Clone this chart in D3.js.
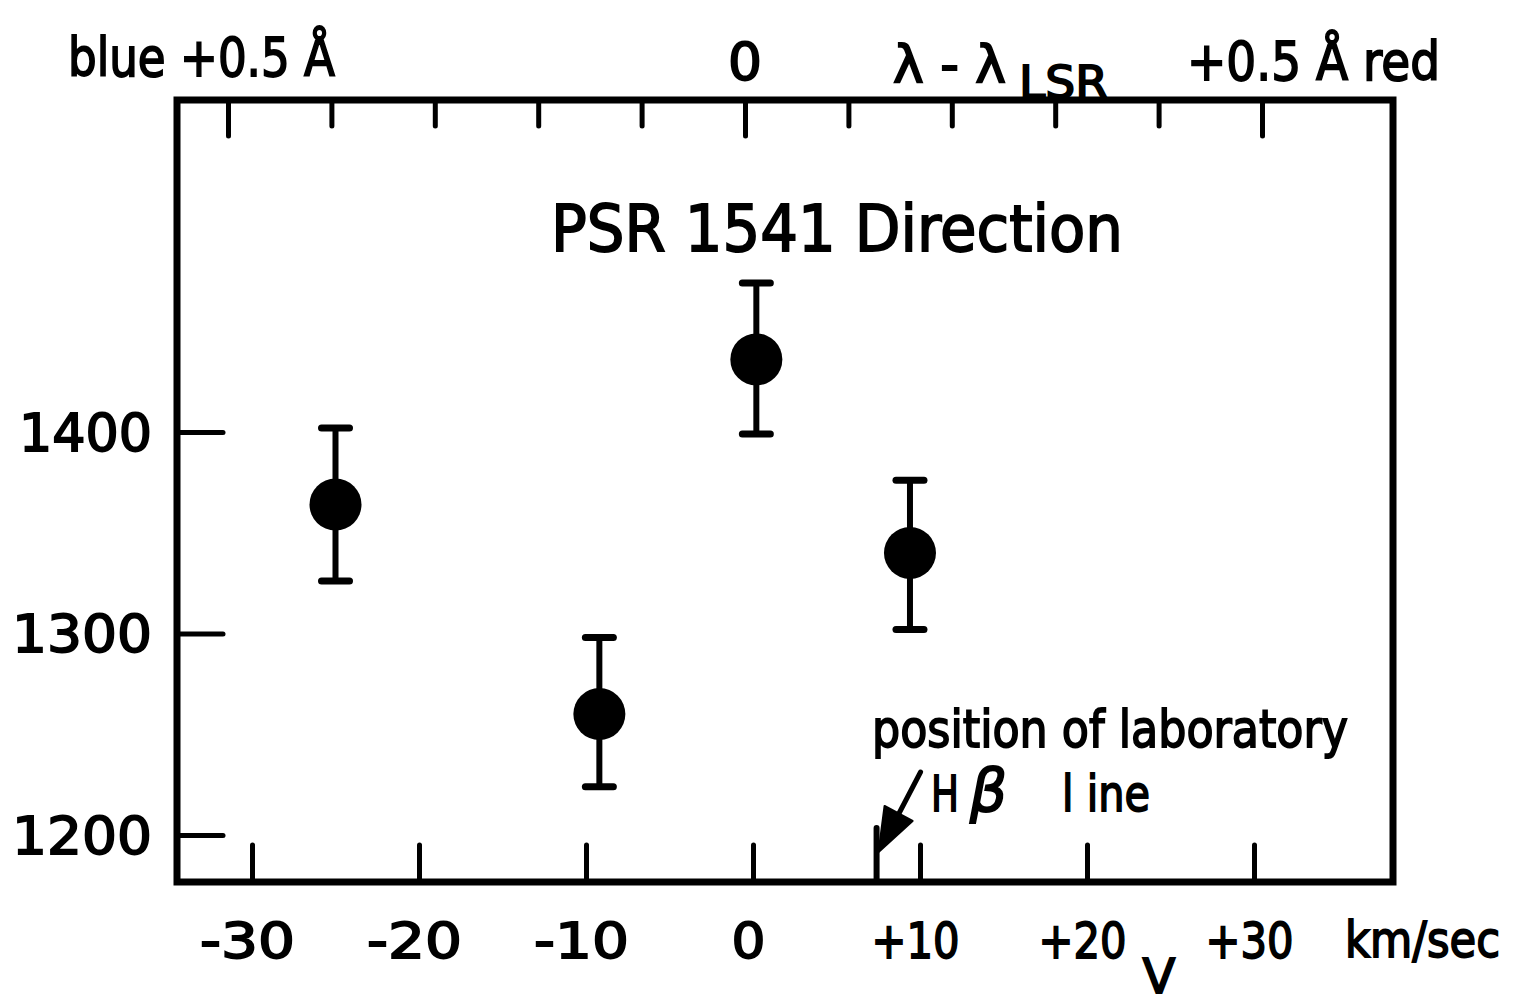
<!DOCTYPE html>
<html>
<head>
<meta charset="utf-8">
<script src="https://cdn.jsdelivr.net/npm/d3@7"></script>
<style>
  html, body { margin: 0; padding: 0; background: #fff; }
  svg { display: block; }
  text { font-family: "DejaVu Sans", sans-serif; fill: #000; stroke: #000; stroke-width: 1.8; paint-order: stroke; }
</style>
</head>
<body>
<div id="container"></div>
<script>
// radial velocity (km/sec) of each measurement
const velocity = [-25.0, -9.2, 0.2, 9.4]
const value = [1364, 1260, 1436, 1340]
const errLow = [1326, 1224, 1399, 1302]
const errHigh = [1402, 1298, 1474, 1376]

const vTicks = [-30, -20, -10, 0, 10, 20, 30]
const yTicks = [1200, 1300, 1400]
const lambdaTicks = [-0.5, -0.4, -0.3, -0.2, -0.1, 0, 0.1, 0.2, 0.3, 0.4, 0.5]
const lambdaMajor = [-0.5, 0, 0.5]
const labLine = 7.4  // laboratory H-beta position, km/sec

const width = 1524
const height = 1007

const frame = { left: 177, top: 100, right: 1393, bottom: 882 }

const svg = d3.select('#container')
    .append('svg').attr('width', width).attr('height', height)

const x = d3.scaleLinear().domain([-30, 30]).range([252, 1254])
const y = d3.scaleLinear().domain([1200, 1400]).range([835, 432])
const xTop = d3.scaleLinear().domain([-0.5, 0.5]).range([228, 1262])

const fmtV = d => d > 0 ? "+" + d : d < 0 ? "-" + Math.abs(d) : "0"

// bottom axis, ticks pointing up into the frame
const bottomAxis = svg.append("g")
    .attr("transform", `translate(0,${frame.bottom})`)
    .call(d3.axisBottom(x).tickValues(vTicks).tickSize(-37).tickFormat(fmtV))
bottomAxis.select(".domain").remove()
bottomAxis.selectAll("line").attr("stroke", "#000").attr("stroke-width", 5).attr("stroke-linecap", "round")
bottomAxis.selectAll("text")
    .attr("y", 76).attr("dy", null).attr("dx", -5)
    .attr("font-size", 50)
    .attr("textLength", d => d === 0 ? 34 : d < 0 ? 95 : 88)
    .attr("lengthAdjust", "spacingAndGlyphs")

// left axis
const leftAxis = svg.append("g")
    .attr("transform", `translate(${frame.left},0)`)
    .call(d3.axisLeft(y).tickValues(yTicks).tickSize(-46).tickFormat(d3.format("d")))
leftAxis.select(".domain").remove()
leftAxis.selectAll("line").attr("stroke", "#000").attr("stroke-width", 5).attr("stroke-linecap", "round")
leftAxis.selectAll("text")
    .attr("x", -25).attr("dy", 18)
    .attr("font-size", 52)
    .attr("text-anchor", "end")
    .attr("textLength", d => d === 1400 ? 133 : 140)
    .attr("lengthAdjust", "spacingAndGlyphs")

// top axis (wavelength offset), ticks hang down into the frame
const topAxis = svg.append("g")
    .attr("transform", `translate(0,${frame.top})`)
    .call(d3.axisTop(xTop).tickValues(lambdaTicks).tickSize(0).tickFormat(""))
topAxis.select(".domain").remove()
topAxis.selectAll(".tick line")
    .attr("y2", d => lambdaMajor.includes(d) ? 36 : 26)
    .attr("stroke", "#000").attr("stroke-width", 5).attr("stroke-linecap", "round")

// frame
svg.append("rect")
    .attr("x", frame.left).attr("y", frame.top)
    .attr("width", frame.right - frame.left).attr("height", frame.bottom - frame.top)
    .attr("fill", "none").attr("stroke", "#000").attr("stroke-width", 7)

// free labels
const label = (txt, x0, base, size, len) => svg.append("text")
    .attr("x", x0).attr("y", base).attr("font-size", size)
    .attr("textLength", len).attr("lengthAdjust", "spacingAndGlyphs")
    .text(txt)
label("blue +0.5 Å", 68, 76, 54, 267)
label("0", xTop(0) - 17, 80, 52, 34)
label("λ - λ", 893, 82, 52, 113)
label("LSR", 1019, 98, 44, 89)
label("+0.5 Å red", 1187, 80, 54, 253)

// title
label("PSR 1541 Direction", 551, 251, 64, 572)

// bottom unit labels
label("km/sec", 1345, 957, 50, 155)
svg.append("text")
    .attr("x", x(24.3)).attr("y", 993).attr("font-size", 48)
    .attr("text-anchor", "middle").text("V")

// error bars and points
const pts = velocity.map((v, i) => ({ v, val: value[i], lo: errLow[i], hi: errHigh[i] }))
const capHalf = 14

const bars = svg.append("g")
bars.selectAll(".err").data(pts).join("line")
    .attr("class", "err")
    .attr("x1", d => x(d.v)).attr("x2", d => x(d.v))
    .attr("y1", d => y(d.lo)).attr("y2", d => y(d.hi))
    .attr("stroke", "#000").attr("stroke-width", 6)
bars.selectAll(".capHi").data(pts).join("line")
    .attr("class", "capHi")
    .attr("x1", d => x(d.v) - capHalf).attr("x2", d => x(d.v) + capHalf)
    .attr("y1", d => y(d.hi)).attr("y2", d => y(d.hi))
    .attr("stroke", "#000").attr("stroke-width", 7).attr("stroke-linecap", "round")
bars.selectAll(".capLo").data(pts).join("line")
    .attr("class", "capLo")
    .attr("x1", d => x(d.v) - capHalf).attr("x2", d => x(d.v) + capHalf)
    .attr("y1", d => y(d.lo)).attr("y2", d => y(d.lo))
    .attr("stroke", "#000").attr("stroke-width", 7).attr("stroke-linecap", "round")
bars.selectAll(".dot").data(pts).join("circle")
    .attr("class", "dot")
    .attr("cx", d => x(d.v)).attr("cy", d => y(d.val))
    .attr("r", 26).attr("fill", "#000")

// laboratory H-beta marker and arrow
const lx = x(labLine)
svg.append("line")
    .attr("x1", lx).attr("x2", lx)
    .attr("y1", frame.bottom).attr("y2", 828)
    .attr("stroke", "#000").attr("stroke-width", 6).attr("stroke-linecap", "round")
svg.append("line")
    .attr("x1", lx + 44).attr("y1", 772)
    .attr("x2", lx + 20).attr("y2", 818)
    .attr("stroke", "#000").attr("stroke-width", 5).attr("stroke-linecap", "round")
svg.append("polygon")
    .attr("points", [[lx + 2, 852], [lx + 8, 806], [lx + 36, 821]].map(p => p.join(",")).join(" "))
    .attr("fill", "#000").attr("stroke", "#000").attr("stroke-width", 2).attr("stroke-linejoin", "round")

label("position of laboratory", 872, 747, 52, 476)
label("H", 931, 811, 50, 28)
svg.append("text")
    .attr("x", 970).attr("y", 811).attr("font-size", 58)
    .attr("font-style", "italic")
    .text("β")
label("l ine", 1062, 811, 50, 88)
</script>
</body>
</html>
